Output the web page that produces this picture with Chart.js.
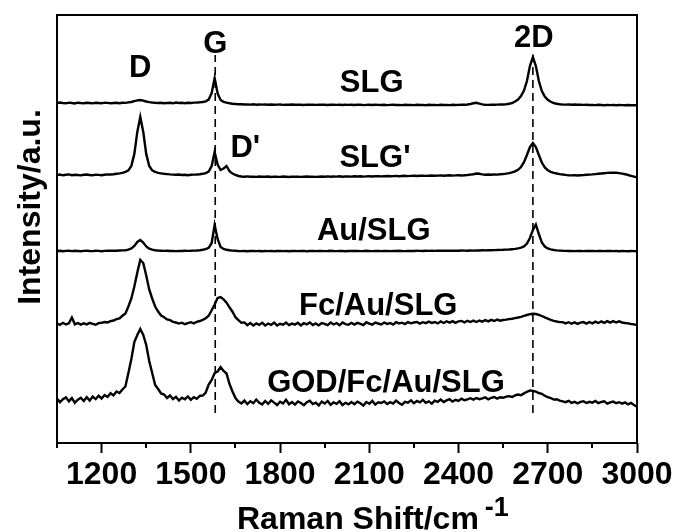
<!DOCTYPE html>
<html>
<head>
<meta charset="utf-8">
<title>Raman spectra</title>
<script src="https://cdn.jsdelivr.net/npm/chart.js@4.4.1/dist/chart.umd.min.js"></script>
<style>
  html, body { margin: 0; padding: 0; background: #fff; }
  #wrap { width: 676px; height: 532px; }
</style>
</head>
<body>
<div id="wrap"><canvas id="c" width="676" height="532"></canvas></div>
<script>
// Raman shift (cm^-1), one row per 100 cm^-1
const ramanShift = [
  1050,1060,1070,1080,1090,1100,1110,1120,1130,1140,
  1150,1160,1170,1180,1190,1200,1210,1220,1230,1240,
  1250,1260,1270,1280,1290,1300,1310,1320,1330,1340,
  1350,1360,1370,1380,1390,1400,1410,1420,1430,1440,
  1450,1460,1470,1480,1490,1500,1510,1520,1530,1540,
  1550,1560,1570,1580,1590,1600,1610,1620,1630,1640,
  1650,1660,1670,1680,1690,1700,1710,1720,1730,1740,
  1750,1760,1770,1780,1790,1800,1810,1820,1830,1840,
  1850,1860,1870,1880,1890,1900,1910,1920,1930,1940,
  1950,1960,1970,1980,1990,2000,2010,2020,2030,2040,
  2050,2060,2070,2080,2090,2100,2110,2120,2130,2140,
  2150,2160,2170,2180,2190,2200,2210,2220,2230,2240,
  2250,2260,2270,2280,2290,2300,2310,2320,2330,2340,
  2350,2360,2370,2380,2390,2400,2410,2420,2430,2440,
  2450,2460,2470,2480,2490,2500,2510,2520,2530,2540,
  2550,2560,2570,2580,2590,2600,2610,2620,2630,2640,
  2650,2660,2670,2680,2690,2700,2710,2720,2730,2740,
  2750,2760,2770,2780,2790,2800,2810,2820,2830,2840,
  2850,2860,2870,2880,2890,2900,2910,2920,2930,2940,
  2950,2960,2970,2980,2990,3000
];

// Intensities (a.u.) of each spectrum above its own baseline
const slg = [
  0,0.5,0,-0.3,0.4,0,-0.5,0.3,0,-0.2,
  0.3,0,-0.4,0.2,0,-0.3,0.4,0.1,-0.2,0,
  0.2,-0.2,0.3,0.1,0.6,1.0,1.8,2.6,3.0,2.4,
  1.5,0.9,0.5,0.2,0,0.3,-0.2,0,0.2,-0.3,
  0.5,0,0.2,-0.2,0.3,0,0.4,0.5,0.7,1.0,
  1.7,3.4,9.8,25,9.6,3.0,1.2,0.3,-0.3,-0.8,
  -1.0,-1.3,-1.2,-1.5,-1.4,-1.6,-1.3,-1.7,-1.5,-1.6,
  -1.4,-1.7,-1.5,-1.8,-1.6,-1.5,-1.9,-1.6,-1.7,-1.5,
  -1.8,-1.6,-1.7,-2.0,-1.6,-1.8,-1.7,-1.9,-1.6,-1.8,
  -1.7,-2.0,-1.8,-1.6,-1.9,-1.8,-2.0,-1.7,-1.9,-1.8,
  -2.0,-1.8,-1.7,-2.1,-1.9,-1.8,-2.0,-1.7,-1.9,-2.0,
  -1.8,-2.1,-1.9,-1.7,-2.0,-1.9,-2.1,-1.8,-2.0,-1.9,
  -2.1,-1.8,-2.0,-1.9,-2.2,-1.8,-2.0,-1.9,-2.1,-1.8,
  -2.0,-1.9,-2.1,-1.8,-2.0,-1.9,-1.7,-1.8,-1.5,-1.0,
  -0.3,0.2,-0.6,-1.4,-1.8,-1.9,-1.7,-1.8,-1.6,-1.4,
  -1.5,-1.2,-0.8,0,1.5,3.5,7,12.5,22,37,
  46,37,22,12,6.5,3.2,1.2,0,-0.8,-1.2,
  -1.5,-1.6,-1.4,-1.7,-1.5,-1.8,-1.7,-1.9,-1.8,-2.0,
  -1.9,-2.1,-1.8,-2.0,-2.2,-1.9,-2.1,-2.0,-2.2,-2.0,
  -2.1,-2.3,-2.0,-2.2,-2.1,-2.3
];
const slgPrime = [
  0,0.5,-0.3,0.2,0.6,-0.2,0.3,0,-0.4,0.2,
  0.5,0,-0.3,0.4,0.1,-0.2,0.3,0.6,0.5,0.8,
  1.2,1.6,2.1,3.0,4.7,9.1,21.1,43.1,58,43.1,
  21.1,9.1,4.7,3.0,2.1,1.6,1.2,0.9,0.6,0.4,
  0.2,0.5,0,0.3,-0.2,0.2,0.4,0.5,0.8,1.2,
  1.9,3.5,9.0,23,10.5,5.0,6.5,9.0,3.8,1.4,
  0,-1.0,-1.5,-1.7,-1.4,-1.8,-1.6,-1.9,-1.5,-1.7,
  -1.8,-1.5,-2.0,-1.6,-1.8,-1.9,-1.5,-1.7,-2.0,-1.6,
  -1.8,-1.6,-1.9,-1.7,-1.5,-1.8,-1.6,-1.9,-1.7,-1.5,
  -1.7,-1.4,-1.8,-1.5,-1.6,-1.3,-1.7,-1.5,-1.4,-1.6,
  -1.3,-1.5,-1.2,-1.6,-1.4,-1.2,-1.5,-1.3,-1.1,-1.4,
  -1.2,-1.0,-1.3,-1.1,-0.9,-1.2,-1.0,-0.8,-1.1,-0.9,
  -0.7,-1.0,-0.8,-0.6,-0.9,-0.7,-0.5,-0.8,-0.6,-0.4,
  -0.7,-0.5,-0.3,-0.6,-0.4,-0.2,-0.5,-0.3,0,0.4,
  0.8,1.5,1.2,0.6,0.3,0.5,0.2,0.6,0.4,0.8,
  1.0,1.4,1.9,2.6,3.6,5.2,8.0,12.8,20,28,
  32,28,20,12.5,7.6,4.8,3.2,2.2,1.5,0.9,
  0.5,0.1,-0.2,-0.4,-0.2,-0.5,-0.3,-0.1,0.2,0.4,
  0.6,0.9,1.2,1.5,1.8,2.1,2.3,2.4,2.2,1.9,
  1.4,0.8,0,-0.8,-1.6,-2.4
];
const auSlg = [
  0,0.2,-0.2,0.1,0.3,-0.1,0.2,0,-0.2,0.1,
  0.2,0,-0.1,0.2,0.1,-0.2,0.1,0.3,0.2,0.4,
  0.3,0.5,0.6,0.8,1.4,2.5,5.0,9.0,11,8.5,
  4.5,2.3,1.3,0.8,0.5,0.3,0.1,0.2,0,0.1,
  -0.1,0.1,0,0.2,0.1,0.2,0.4,0.5,0.8,1.2,
  1.8,3.2,8,26,12,4,2,1.2,0.7,0.4,
  0.2,0,-0.1,0,-0.2,0,0.1,-0.1,0,-0.2,
  0,-0.1,0.1,-0.2,0,0.1,-0.1,0,-0.2,0,
  0.1,-0.1,0,0.1,-0.2,0,0.1,-0.1,0,0.1,
  -0.1,0,0.2,0,-0.1,0.1,0,-0.2,0,0.1,
  0,0.1,-0.1,0,0.2,0,-0.1,0.1,0,-0.1,
  0.1,0,-0.1,0.1,0,0.2,0,-0.1,0.1,0,
  0,0.2,0.1,0,0.2,0.1,0.3,0.1,0.2,0.3,
  0.2,0.4,0.3,0.2,0.4,0.3,0.5,0.4,0.3,0.5,
  0.4,0.6,0.5,0.7,0.6,0.8,0.7,0.9,1.0,1.1,
  1.2,1.4,1.5,1.8,2.1,2.6,3.4,4.5,7.5,13,
  21,26.5,17,8.5,4.5,2.6,1.6,1.0,0.6,0.4,
  0.2,0.1,0,0.1,-0.1,0,0.1,-0.1,0,0.1,
  0,-0.1,0.1,0,-0.1,0,0.1,-0.1,0,-0.2,
  0,-0.1,-0.2,0,-0.1,-0.2
];
const fcAuSlg = [
  0.5,-0.8,1.2,-0.5,0.8,6.5,-0.3,1.0,-0.6,0.7,
  -0.4,1.1,0.2,-0.7,0.9,1.2,2.0,1.6,2.8,3.5,
  4.8,5.6,8.2,10.5,17.5,25.5,37.5,51.5,64,61,
  48.5,34.5,25.5,17.5,12.5,8.5,6.8,4.6,3.8,2.2,
  1.5,0.4,1.3,-0.2,0.9,1.8,0.6,2.2,3.0,4.2,
  5.8,8.2,13.8,19.5,26,27,24.6,21.3,16.6,12.3,
  6.8,3.8,1.2,1.6,-1.2,0.9,-1.5,0.6,-0.8,1.3,
  -1.4,0.5,-0.9,1.4,-1.6,0.2,-0.7,1.5,-1.1,0.4,
  -0.6,1.2,-1.5,0.8,-0.3,1.6,-1.0,0.5,-1.4,0.9,
  0.2,-1.2,1.4,-0.5,0.9,-1.3,1.6,-0.1,-0.8,1.2,
  -0.6,1.1,0.2,-1.0,1.7,0.3,-0.7,1.4,0.5,-0.4,
  1.5,0.1,1.0,-0.6,1.8,0.6,1.3,-0.1,1.9,0.7,
  1.5,2.1,0.4,1.8,0.9,2.4,1.1,2.0,0.6,2.5,
  1.0,2.6,1.4,2.9,1.2,2.7,3.1,1.6,3.2,2.0,
  3.4,2.0,3.5,2.4,3.9,2.6,4.1,3.0,4.4,3.3,
  4.0,4.4,4.9,5.3,5.9,6.5,7.2,8.1,9.0,9.8,
  10.3,10.0,9.2,8.0,6.6,5.3,4.2,3.2,2.5,1.9,
  1.9,0.6,1.8,0.3,1.6,0.1,1.4,1.9,0.4,2.0,
  0.7,2.3,1.0,2.6,1.2,2.8,1.4,2.9,1.5,2.6,
  1.5,1.0,0.6,0.0,-0.4,-1.0
];
const godFcAuSlg = [
  1.5,-2.2,0.8,2.6,-1.4,1.9,-2.8,0.4,2.2,-1.0,
  2.8,-0.6,3.4,0.9,4.2,1.5,5.0,3.0,6.8,4.6,
  8.5,7.0,10.5,13.5,27,41,58,65,71,65,
  55,39,27,15,11,6.5,5.5,2.0,4.5,1.0,
  3.2,-0.5,2.4,0.8,3.6,0.2,2.9,1.2,4.1,4.5,
  7.5,15.5,20,27,28.5,33,29,26.5,16,8.5,
  2.0,-1.5,-3.5,-0.6,-4.0,-1.2,-3.2,0.5,-2.8,-4.4,
  -1.0,-3.8,-0.4,-2.6,-5.0,-1.8,-3.4,0.2,-4.2,-2.0,
  -4.6,-1.4,-3.0,-5.2,-2.2,-0.8,-4.0,-2.6,-5.4,-1.6,
  -3.6,-0.9,-4.8,-2.4,-3.8,-1.2,-5.0,-2.8,-4.4,-2.0,
  -4.2,-1.6,-3.2,-5.6,-2.0,-3.8,-0.8,-4.6,-2.4,-3.0,
  -1.4,-4.0,-2.2,-3.6,-0.6,-3.0,-4.8,-1.8,-2.6,-0.4,
  -3.2,-1.0,-2.4,0.2,-2.8,-1.4,-3.6,-0.6,-1.8,0.4,
  -2.0,-0.4,0.8,-1.6,0.2,-0.8,1.4,-0.2,0.6,1.8,
  0.4,2.0,0.8,1.6,2.6,0.6,2.2,3.0,1.4,2.8,
  2.2,3.4,3.8,3.0,4.6,5.4,4.8,6.6,8.2,9.6,
  9.0,8.4,7.0,6.2,4.2,2.8,2.0,0.4,0.8,-0.6,
  -1.4,-2.2,-0.8,-2.8,-1.8,-3.4,-2.0,-1.2,-3.0,-1.8,
  -2.6,-1.0,-3.2,-2.0,-1.4,-3.6,-2.4,-1.6,-3.2,-2.2,
  -3.6,-2.4,-4.4,-3.0,-5.0,-6.8
];

// Sample names and the vertical offset (a.u.) each spectrum is stacked at
const sampleNames = ['SLG', "SLG'", 'Au/SLG', 'Fc/Au/SLG', 'GOD/Fc/Au/SLG'];
const spectra = [slg, slgPrime, auSlg, fcAuSlg, godFcAuSlg];
const traceOffset = [340, 268, 192, 119, 43];

// Axis ticks
const majorTicks = [1200, 1500, 1800, 2100, 2400, 2700, 3000];
const minorTicks = [1050, 1350, 1650, 1950, 2250, 2550, 2850];

// Dashed guides through the G and 2D bands
const bandGuides = [1582, 2650];
const guideSpan = [30, 388];

// Band and sample labels (x in cm^-1, y = text baseline in a.u.)
const bandLabels = [
  { text: 'D',  x: 1330, y: 366 },
  { text: 'G',  x: 1582, y: 390 },
  { text: "D'", x: 1683, y: 286 },
  { text: '2D', x: 2653, y: 396 }
];
const sampleLabelPos = [
  { x: 2108, y: 351 },
  { x: 2119, y: 276 },
  { x: 2115, y: 203 },
  { x: 2130, y: 128 },
  { x: 2156, y: 51 }
];

const FONT = '"Liberation Sans", Arial, Helvetica, sans-serif';

const datasets = spectra.map((vals, k) => ({
  label: sampleNames[k],
  data: ramanShift.map((x, i) => ({ x: x, y: traceOffset[k] + vals[i] })),
  borderColor: '#000',
  borderWidth: 2.4,
  pointRadius: 0,
  fill: false,
  tension: 0
}));
bandGuides.forEach(pos => {
  datasets.push({
    label: 'guide ' + pos,
    data: [{ x: pos, y: guideSpan[0] }, { x: pos, y: guideSpan[1] }],
    borderColor: '#000',
    borderWidth: 1.6,
    borderDash: [8, 5],
    pointRadius: 0,
    fill: false
  });
});

const decor = {
  id: 'decor',
  afterDraw(chart) {
    const { ctx, chartArea: a, scales } = chart;
    const xs = scales.x, ys = scales.y;
    ctx.save();
    // plot frame
    ctx.strokeStyle = '#000';
    ctx.lineWidth = 2;
    ctx.strokeRect(a.left, a.top, a.right - a.left, a.bottom - a.top);
    // minor ticks
    minorTicks.forEach(v => {
      const px = Math.round(xs.getPixelForValue(v));
      ctx.beginPath();
      ctx.moveTo(px, a.bottom);
      ctx.lineTo(px, a.bottom + 5);
      ctx.stroke();
    });
    ctx.fillStyle = '#000';
    ctx.textAlign = 'center';
    ctx.textBaseline = 'alphabetic';
    ctx.font = 'bold 31px ' + FONT;
    bandLabels.forEach(l => {
      ctx.fillText(l.text, xs.getPixelForValue(l.x), ys.getPixelForValue(l.y));
    });
    sampleLabelPos.forEach((p, k) => {
      ctx.fillText(sampleNames[k], xs.getPixelForValue(p.x), ys.getPixelForValue(p.y));
    });
    // x-axis title with superscript
    ctx.textAlign = 'left';
    ctx.font = 'bold 32px ' + FONT;
    const base = 'Raman Shift/cm';
    ctx.fillText(base, 237, 529);
    const w = ctx.measureText(base).width;
    ctx.font = 'bold 27px ' + FONT;
    ctx.fillText('-1', 237 + w + 6, 516);
    // y-axis title
    ctx.font = 'bold 32px ' + FONT;
    ctx.translate(40, 207);
    ctx.rotate(-Math.PI / 2);
    ctx.textAlign = 'center';
    ctx.fillText('Intensity/a.u.', 0, 0);
    ctx.restore();
  }
};

new Chart(document.getElementById('c'), {
  type: 'line',
  data: { datasets: datasets },
  options: {
    responsive: false,
    animation: false,
    devicePixelRatio: 1,
    events: [],
    layout: { padding: { top: 15, right: 39, left: 0, bottom: 0 } },
    plugins: { legend: { display: false }, tooltip: { enabled: false }, title: { display: false } },
    scales: {
      x: {
        type: 'linear',
        min: 1050,
        max: 3000,
        afterBuildTicks: s => { s.ticks = majorTicks.map(v => ({ value: v })); },
        afterFit: s => { s.height = 89; },
        grid: { display: true, drawOnChartArea: false, drawTicks: true, tickLength: 10, tickWidth: 2, tickColor: '#000' },
        border: { display: false },
        ticks: {
          color: '#000',
          font: { family: FONT, size: 32, weight: 'bold' },
          maxRotation: 0,
          autoSkip: false,
          padding: 3,
          callback: v => String(v)
        }
      },
      y: {
        type: 'linear',
        min: 0,
        max: 428,
        afterFit: s => { s.width = 57; },
        grid: { display: false, drawTicks: false },
        border: { display: false },
        ticks: { display: false }
      }
    }
  },
  plugins: [decor]
});
</script>
</body>
</html>
